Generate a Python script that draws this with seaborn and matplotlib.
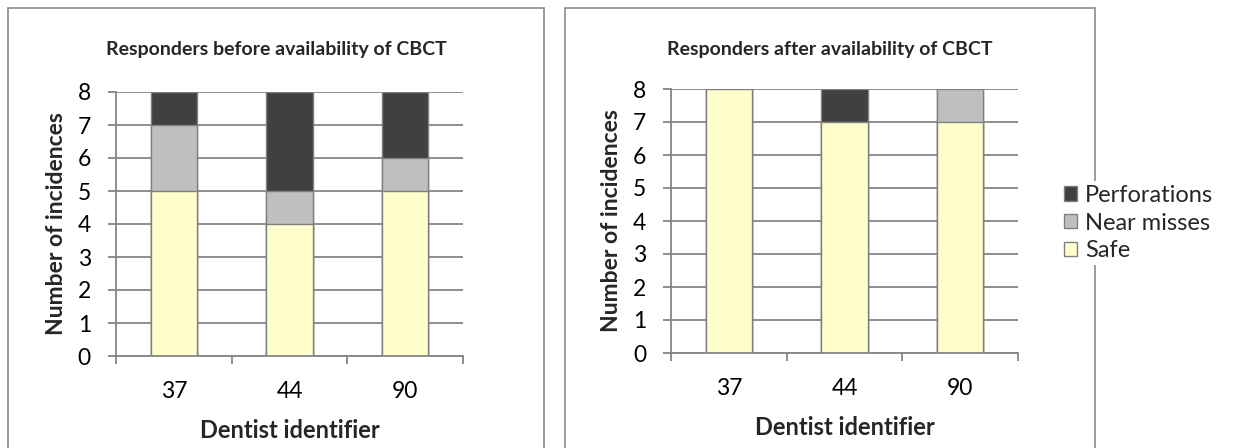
import matplotlib
matplotlib.use("Agg")
import matplotlib.pyplot as plt
from matplotlib.patches import Rectangle, Patch
import seaborn as sns
import numpy as np

# data
dentists = ["37", "44", "90"]
before_safe = [5, 4, 5]
before_near = [2, 1, 1]
before_perf = [1, 3, 2]
after_safe = [8, 7, 7]
after_near = [0, 0, 1]
after_perf = [0, 1, 0]
series_names = ["Perforations", "Near misses", "Safe"]
titles = ["Responders before availability of CBCT", "Responders after availability of CBCT"]

c_perf = "#404040"
c_near = "#bfbfbf"
c_safe = "#ffffcc"
c_grid = "#868686"
c_edge = "#808080"

sns.set_theme(style="white")
plt.rcParams["font.family"] = ["Lato", "DejaVu Sans"]

W, H = 1237, 448
fig = plt.figure(figsize=(W / 100, H / 100), dpi=100)


def fx(px):
    return px / W


def fy(py):
    return (H - py) / H


# panel boxes (bottom edge runs off the image)
for x0, x1 in [(8, 544), (565, 1095)]:
    fig.patches.append(Rectangle((fx(x0), -0.05), fx(x1 - x0), fy(8) + 0.05,
                                 transform=fig.transFigure, fill=False,
                                 edgecolor="#8c8c8c", lw=1.2, zorder=0))

axes_px = [(116, 92, 356), (671, 89, 353)]
data = [(before_safe, before_near, before_perf), (after_safe, after_near, after_perf)]
panel_centers = [(8 + 544) / 2, (565 + 1095) / 2]

for i, ((left, top, bottom), (safe, near, perf)) in enumerate(zip(axes_px, data)):
    ax = fig.add_axes([fx(left), fy(bottom), fx(347), (bottom - top) / H])
    safe = np.array(safe)
    near = np.array(near)
    perf = np.array(perf)
    # layered bars to get a stacked look
    for vals, col in [(safe + near + perf, c_perf), (safe + near, c_near), (safe, c_safe)]:
        sns.barplot(x=dentists, y=vals, color=col, saturation=1, width=0.4,
                    edgecolor=c_edge, linewidth=1.0, ax=ax)
    ax.set_xlim(-0.5, 2.5)
    ax.set_ylim(0, 8)
    ax.set_yticks(range(0, 9))
    ax.yaxis.grid(True, color=c_grid, lw=1.3)
    ax.set_axisbelow(True)
    for s in ["top", "right"]:
        ax.spines[s].set_visible(False)
    for s in ["left", "bottom"]:
        ax.spines[s].set_color(c_grid)
        ax.spines[s].set_linewidth(1.3)
    ax.tick_params(axis="y", which="major", left=True, length=6, width=1.3,
                   color=c_grid, pad=12, labelsize=16.5, labelcolor="black")
    ax.set_xticks([-0.5, 0.5, 1.5, 2.5], minor=True)
    ax.tick_params(axis="x", which="minor", bottom=True, length=6, width=1.3,
                   color=c_grid, direction="out")
    ax.tick_params(axis="x", which="major", bottom=False, length=0, pad=18,
                   labelsize=16.5, labelcolor="black")
    ax.set_ylabel("Number of incidences", fontsize=16.5, fontweight="bold", labelpad=8)
    ax.set_xlabel("Dentist identifier", fontsize=17, fontweight="bold", labelpad=12)
    fig.text(fx(panel_centers[i]), fy(50), titles[i], ha="center", va="center",
             fontsize=14, fontweight="bold")

handles = [Patch(facecolor=c, edgecolor=c_edge, lw=1.0) for c in [c_perf, c_near, c_safe]]
leg = fig.legend(handles, series_names, loc="center left",
                 bbox_to_anchor=(fx(1060), fy(223)), fontsize=17, frameon=True,
                 facecolor="white", edgecolor="none", framealpha=1,
                 handlelength=0.55, handleheight=0.55, handletextpad=0.35,
                 labelspacing=0.28, borderpad=0.15, borderaxespad=0)
leg.set_zorder(5)

fig.savefig("out.png", dpi=100)
